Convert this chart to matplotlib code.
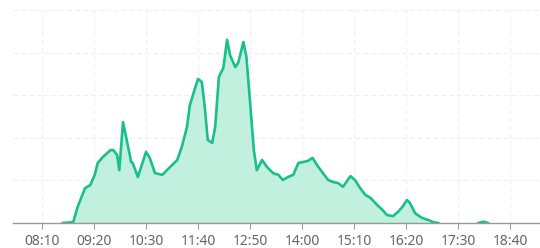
import matplotlib
matplotlib.use("Agg")
import matplotlib.pyplot as plt
import numpy as np
from matplotlib.ticker import FixedLocator, FuncFormatter

# --- data (time of day, value) ---
times = [
    "08:00", "08:38", "08:52", "08:58", "09:08", "09:15", "09:21", "09:25", "09:32",
    "09:42", "09:46", "09:51", "09:54", "09:59", "10:04", "10:10", "10:12", "10:19",
    "10:30", "10:35", "10:42", "10:52", "10:58", "11:05", "11:12", "11:18", "11:25",
    "11:29", "11:36", "11:40", "11:45", "11:49", "11:53", "11:59", "12:03", "12:08",
    "12:14", "12:19", "12:23", "12:30", "12:34", "12:41", "12:45", "12:50", "12:55",
    "12:59", "13:06", "13:13", "13:21", "13:28", "13:34", "13:41", "13:48", "13:55",
    "14:01", "14:08", "14:14", "14:20", "14:28", "14:35", "14:42", "14:48", "14:55",
    "15:05", "15:11", "15:18", "15:25", "15:32", "15:41", "15:48", "15:54", "16:02",
    "16:09", "16:15", "16:21", "16:25", "16:32", "16:41", "16:50", "16:56", "17:03",
    "17:57", "18:04", "18:10", "18:50",
]
values = [
    0, 0, 0.2, 3.8, 8.2, 8.9, 11.3, 14.1, 15.5,
    17.1, 17.1, 16.0, 12.4, 23.7, 19.5, 14.3, 14.1, 10.8,
    16.7, 15.3, 11.7, 11.3, 12.4, 13.6, 14.8, 17.8, 22.5,
    27.7, 31.7, 33.8, 33.1, 27.2, 19.5, 18.8, 22.5, 34.3,
    36.4, 43.0, 39.4, 36.6, 37.6, 42.5, 39.0, 28.2, 17.1,
    12.4, 14.8, 13.1, 11.7, 11.3, 10.1, 10.8, 11.3, 14.1,
    14.3, 14.6, 15.3, 13.6, 11.7, 10.1, 9.6, 9.4, 8.5,
    11.0, 10.1, 8.2, 6.6, 5.9, 4.2, 3.1, 1.9, 1.6,
    2.6, 3.8, 5.4, 4.7, 2.3, 1.2, 0.7, 0.2, 0,
    0, 0.3, 0, 0,
]
tick_labels = ["08:10", "09:20", "10:30", "11:40", "12:50",
               "14:00", "15:10", "16:20", "17:30", "18:40"]


def to_min(s):
    h, m = s.split(":")
    return int(h) * 60 + int(m)


x = np.array([to_min(t) for t in times], dtype=float)
y = np.array(values, dtype=float)
ticks = [to_min(t) for t in tick_labels]

# break the line wherever it would just run along zero (hidden under the axis)
line_x, line_y = [], []
for i in range(len(y)):
    line_x.append(x[i])
    line_y.append(y[i])
    if i + 1 < len(y) and y[i] == 0 and y[i + 1] == 0:
        line_x.append(np.nan)
        line_y.append(np.nan)

LINE = "#1bbf8c"
FILL = "#c2f0df"

fig = plt.figure(figsize=(5.4, 2.48), dpi=100)
ax = fig.add_axes([13 / 540, 25 / 248, 1 - 13 / 540, 213 / 248])

ax.fill_between(x, y, 0, color=FILL, linewidth=0, zorder=1)
ax.plot(line_x, line_y, color=LINE, linewidth=1.9, solid_joinstyle="round", zorder=3)

ax.set_xlim(451, 1160)
ax.set_ylim(0, 50)

ax.xaxis.set_major_locator(FixedLocator(ticks))
ax.xaxis.set_major_formatter(FuncFormatter(lambda v, p: f"{int(v) // 60:02d}:{int(v) % 60:02d}"))
ax.set_yticks([0, 10, 20, 30, 40, 50])
ax.tick_params(axis="y", left=False, labelleft=False)
ax.tick_params(axis="x", direction="out", length=4, width=0.8, color="#999999",
               labelcolor="#666666", labelsize=10, pad=4)
for lbl in ax.get_xticklabels():
    lbl.set_family(["Noto Sans", "DejaVu Sans"])

ax.grid(True, linestyle=(0, (4, 3)), linewidth=0.8, color="#eeeeee", zorder=0)
ax.set_axisbelow(True)

for side in ("top", "right", "left"):
    ax.spines[side].set_visible(False)
ax.spines["bottom"].set_color("#999999")
ax.spines["bottom"].set_linewidth(1.0)
ax.spines["bottom"].set_zorder(4)

fig.savefig("out.png", dpi=100, facecolor="white")
plt.close(fig)
